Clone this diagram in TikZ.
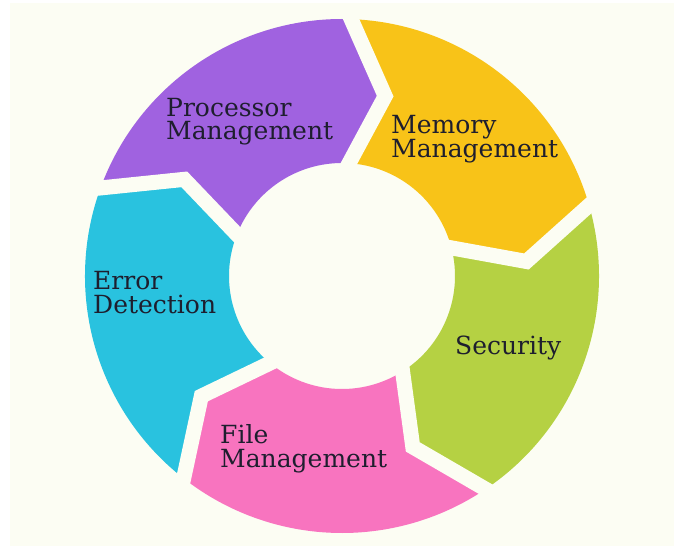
\documentclass[tikz,border=0pt]{standalone}
\usepackage{fontspec}
\setmainfont{DejaVu Serif}
\definecolor{paper}{HTML}{FCFDF3}
\definecolor{procpurple}{HTML}{A062E0}
\definecolor{memyellow}{HTML}{F8C318}
\definecolor{secgreen}{HTML}{B5D143}
\definecolor{filepink}{HTML}{F874BF}
\definecolor{errcyan}{HTML}{29C2DF}
\definecolor{labelink}{HTML}{1E1E2E}

% ring geometry (pt): outer, inner and arrow-tip radii, tip offset angle
\def\Ro{257}
\def\Ri{113}
\def\Rm{185}
\def\tipang{12.5}

% one arrow-shaped ring segment running clockwise from #2 to #3
\newcommand\ringsegment[3]{%
  \fill[#1] (#2:\Ro) arc[start angle=#2, end angle=#3, radius=\Ro]
    -- ({#3-\tipang}:\Rm) -- (#3:\Ri)
    arc[start angle=#3, end angle=#2, radius=\Ri]
    -- ({#2-\tipang}:\Rm) -- cycle;}

% chevron-shaped gap between two neighbouring segments
\newcommand\ringgap[1]{%
  \draw[gapline] (#1:{\Ro+10}) -- ({#1-\tipang}:\Rm) -- (#1:{\Ri-10});}

\begin{document}
\begin{tikzpicture}[x=1pt,y=1pt,
  gapline/.style={draw=paper, line width=15pt, line join=miter, miter limit=20},
  steplabel/.style={anchor=base west, inner sep=0pt, align=left,
    text=labelink, font=\fontsize{25}{23.5}\selectfont}]
\useasboundingbox (0,0) rectangle (674,550);
\fill[white] (0,0) rectangle (674,550);
\fill[paper] (10,4) rectangle (674,547);

\begin{scope}[shift={(342,274)}]
  \ringsegment{procpurple}{161}{89}
  \ringsegment{memyellow}{89}{17}
  \ringsegment{secgreen}{17}{-55}
  \ringsegment{filepink}{-55}{-127}
  \ringsegment{errcyan}{-127}{-199}
  \foreach \b in {89,17,-55,-127,161} {\ringgap{\b}}
\end{scope}

% labels: the base anchor sits on the last line's baseline
\node[steplabel] (proc) at (166,410) {Processor\\Management};
\node[steplabel] (mem) at (391,392) {Memory\\Management};
\node[steplabel] (sec) at (455,196) {Security};
\node[steplabel] (file) at (220,83) {File\\Management};
\node[steplabel] (err) at (93,237) {Error\\Detection};
\end{tikzpicture}
\end{document}
